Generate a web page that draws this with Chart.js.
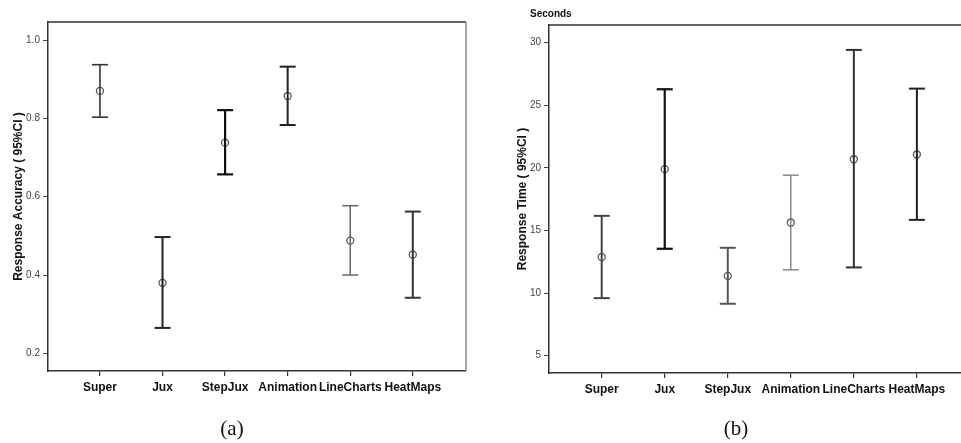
<!DOCTYPE html>
<html>
<head>
<meta charset="utf-8">
<script src="https://cdn.jsdelivr.net/npm/chart.js@4/dist/chart.umd.min.js"></script>
<style>
  html, body { margin: 0; padding: 0; background: #fff; }
  #wrap { position: relative; width: 961px; height: 443px; overflow: hidden; }
  canvas { position: absolute; top: 0; }
  .cap { position: absolute; font-family: "Liberation Serif", "Times New Roman", serif; font-size: 21px; color: #111; transform: translateX(-50%); }
  .unit { position: absolute; font-family: "Liberation Sans", Arial, sans-serif; font-weight: bold; font-size: 10px; color: #111; }
</style>
</head>
<body>
<div id="wrap">
  <canvas id="accuracy" width="480" height="443" style="left:0"></canvas>
  <canvas id="time" width="481" height="443" style="left:480px"></canvas>
  <div class="unit" style="left:530px; top:8px;">Seconds</div>
  <div class="cap" style="left:232px; top:416px;">(a)</div>
  <div class="cap" style="left:736px; top:416px;">(b)</div>
</div>
<script>
// Experimental conditions
const conditions = ['Super', 'Jux', 'StepJux', 'Animation', 'LineCharts', 'HeatMaps'];

// Response accuracy: mean and 95% confidence interval bounds
const accuracyMean  = [0.870, 0.380, 0.738, 0.857, 0.488, 0.452];
const accuracyLower = [0.803, 0.265, 0.657, 0.783, 0.400, 0.342];
const accuracyUpper = [0.937, 0.497, 0.821, 0.932, 0.577, 0.562];
const accuracyTicks = [0.2, 0.4, 0.6, 0.8, 1.0];

// Response time in seconds: mean and 95% confidence interval bounds
const timeMean  = [12.88, 19.90, 11.38, 15.64, 20.69, 21.07];
const timeLower = [9.60, 13.54, 9.15, 11.86, 12.05, 15.85];
const timeUpper = [16.17, 26.28, 13.62, 19.42, 29.42, 26.33];
const timeTicks = [5, 10, 15, 20, 25, 30];

const SANS = '"Liberation Sans", Arial, sans-serif';

// Per-condition whisker strokes
const accuracyStroke = [
  ['#333', 1.6], ['#222', 2], ['#111', 2.2], ['#222', 2], ['#666', 1.5], ['#333', 2]
];
const timeStroke = [
  ['#444', 2], ['#111', 2.2], ['#555', 2], ['#777', 1.3], ['#333', 2], ['#222', 2]
];

function buildDatasets(mean, lower, upper, strokes) {
  const sets = conditions.map((name, i) => ({
    type: 'line',
    label: name,
    data: [{ x: i, y: lower[i] }, { x: i, y: upper[i] }],
    borderColor: strokes[i][0],
    borderWidth: strokes[i][1],
    pointStyle: 'line',
    pointRadius: 8,
    pointBorderWidth: strokes[i][1],
    pointBorderColor: strokes[i][0],
    fill: false
  }));
  sets.push({
    type: 'scatter',
    label: 'Mean',
    data: conditions.map((_, i) => ({ x: i, y: mean[i] })),
    pointStyle: 'circle',
    pointRadius: 3.5,
    pointBorderWidth: 1.3,
    pointBorderColor: '#555',
    pointBackgroundColor: 'rgba(0,0,0,0)'
  });
  return sets;
}

// Draws the top edge (and optional right edge) of the plot frame
const frame = {
  id: 'frame',
  afterDraw(chart, args, opts) {
    const { ctx, chartArea: a } = chart;
    ctx.save();
    ctx.lineWidth = 1.5;
    ctx.strokeStyle = '#333';
    ctx.beginPath();
    ctx.moveTo(a.left, a.top);
    ctx.lineTo(a.right, a.top);
    ctx.stroke();
    if (opts.right) {
      ctx.strokeStyle = '#888';
      ctx.beginPath();
      ctx.moveTo(a.right, a.top);
      ctx.lineTo(a.right, a.bottom);
      ctx.stroke();
    }
    ctx.restore();
  }
};

function makeChart(id, cfg) {
  return new Chart(document.getElementById(id), {
    data: { datasets: buildDatasets(cfg.mean, cfg.lower, cfg.upper, cfg.strokes) },
    plugins: [frame],
    options: {
      responsive: false,
      animation: false,
      layout: { autoPadding: false, padding: { top: cfg.top, right: cfg.padRight, left: 0, bottom: 0 } },
      plugins: {
        legend: { display: false },
        tooltip: { enabled: false },
        frame: { right: cfg.frameRight }
      },
      scales: {
        x: {
          type: 'linear',
          min: cfg.xMin,
          max: cfg.xMax,
          afterBuildTicks(s) { s.ticks = conditions.map((_, i) => ({ value: i })); },
          afterFit(s) { s.height = cfg.xHeight; s.paddingLeft = 0; s.paddingRight = 0; },
          ticks: {
            callback: v => conditions[v],
            color: '#111',
            padding: 4,
            maxRotation: 0,
            autoSkip: false,
            font: { family: SANS, size: 12, weight: 'bold' }
          },
          grid: { display: true, drawOnChartArea: false, tickLength: 5, color: '#333', lineWidth: 1.2 },
          border: { color: '#333', width: 1.5 }
        },
        y: {
          type: 'linear',
          min: cfg.yMin,
          max: cfg.yMax,
          afterBuildTicks(s) { s.ticks = cfg.ticks.map(v => ({ value: v })); },
          afterFit(s) { s.width = cfg.yWidth; s.paddingTop = 0; s.paddingBottom = 0; },
          ticks: {
            callback: cfg.fmt,
            color: '#444',
            padding: 3,
            font: { family: SANS, size: 10 }
          },
          grid: { display: true, drawOnChartArea: false, tickLength: 5, color: '#444', lineWidth: 1 },
          border: { color: '#333', width: 1.5 },
          title: {
            display: true,
            text: cfg.title,
            color: '#111',
            padding: { top: cfg.titlePad, bottom: 0 },
            font: { family: SANS, size: 12, weight: 'bold' }
          }
        }
      }
    }
  });
}

makeChart('accuracy', {
  mean: accuracyMean, lower: accuracyLower, upper: accuracyUpper, strokes: accuracyStroke,
  ticks: accuracyTicks, fmt: v => Number(v).toFixed(1),
  title: 'Response Accuracy ( 95%CI )',
  yMin: 0.155, yMax: 1.046, xMin: -0.83, xMax: 5.85,
  top: 22, padRight: 14, yWidth: 48, xHeight: 72, titlePad: 11, frameRight: true
});

makeChart('time', {
  mean: timeMean, lower: timeLower, upper: timeUpper, strokes: timeStroke,
  ticks: timeTicks, fmt: v => String(v),
  title: 'Response Time ( 95%CI )',
  yMin: 3.62, yMax: 31.41, xMin: -0.836, xMax: 5.70,
  top: 25, padRight: 0, yWidth: 69, xHeight: 70, titlePad: 35, frameRight: false
});
</script>
</body>
</html>
